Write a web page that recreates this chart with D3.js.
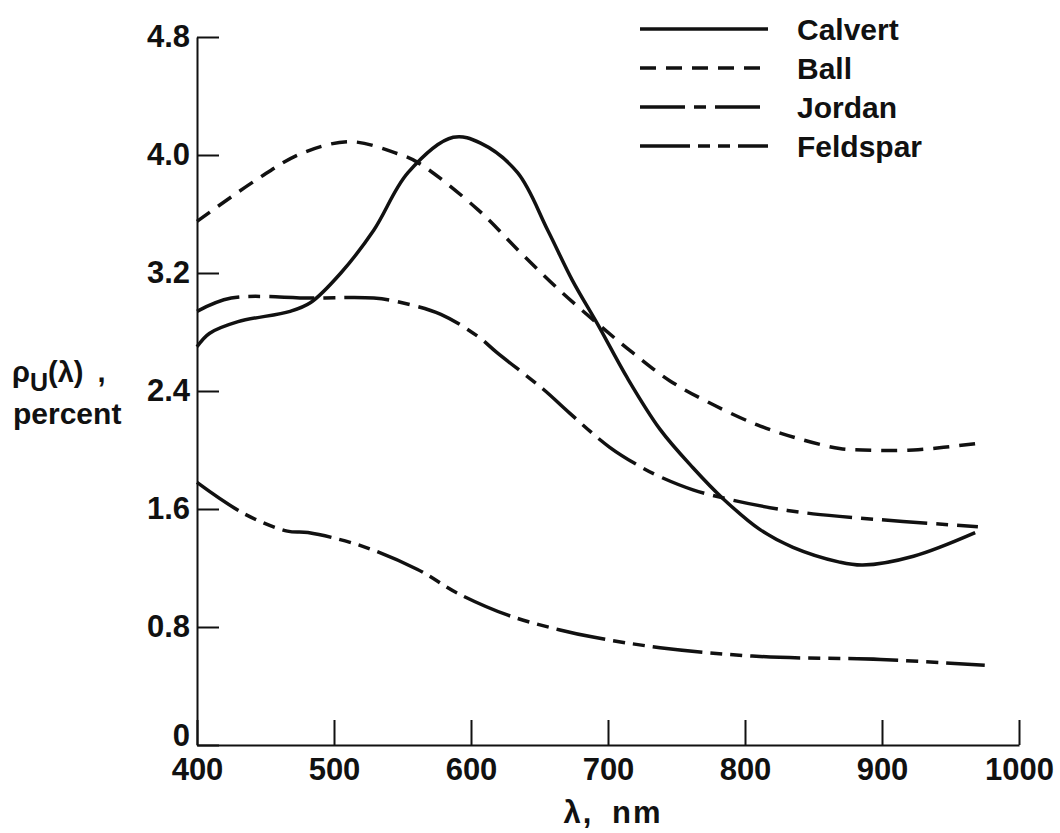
<!DOCTYPE html>
<html lang="en">
<head>
<meta charset="UTF-8" />
<title>Spectral reflectance</title>
<script src="https://d3js.org/d3.v7.min.js"></script>
<style>
  body { margin: 0; background: #fff; }
  svg { display: block; }
  text { font-family: "Liberation Sans", Arial, sans-serif; font-weight: bold; fill: #111; }
  .axis path, .axis line { stroke: #111; stroke-width: 2px; }
  .curve { fill: none; stroke: #111; stroke-width: 3.5px; stroke-linecap: butt; }
</style>
</head>
<body>
<script>
// data
const calvertX = [400, 409, 430, 468, 483, 505, 529, 554, 587, 607, 634, 656, 674, 692, 714, 738, 762, 784, 811, 835, 869, 886, 923, 968];
const calvertY = [2.70, 2.79, 2.87, 2.94, 3.00, 3.20, 3.49, 3.88, 4.12, 4.08, 3.88, 3.49, 3.15, 2.86, 2.49, 2.14, 1.88, 1.67, 1.46, 1.34, 1.24, 1.22, 1.28, 1.44];

const ballX = [400, 443, 476, 512, 546, 561, 605, 636, 665, 692, 718, 745, 774, 809, 838, 869, 886, 923, 974];
const ballY = [3.55, 3.83, 4.01, 4.09, 4.01, 3.95, 3.63, 3.34, 3.08, 2.86, 2.66, 2.47, 2.32, 2.17, 2.08, 2.01, 2.00, 2.00, 2.05];

const jordanX = [400, 425, 483, 529, 549, 578, 605, 619, 653, 672, 701, 725, 740, 762, 791, 831, 869, 970];
const jordanY = [2.94, 3.03, 3.03, 3.03, 3.00, 2.92, 2.77, 2.66, 2.41, 2.25, 2.02, 1.88, 1.81, 1.73, 1.66, 1.59, 1.55, 1.48];

const feldsparX = [400, 434, 466, 481, 520, 561, 590, 627, 665, 690, 738, 811, 899, 975];
const feldsparY = [1.78, 1.57, 1.45, 1.44, 1.35, 1.19, 1.03, 0.88, 0.78, 0.73, 0.66, 0.60, 0.58, 0.54];

const seriesNames = ["Calvert", "Ball", "Jordan", "Feldspar"];
const xTicks = [400, 500, 600, 700, 800, 900, 1000];
const yTicks = [0, 0.8, 1.6, 2.4, 3.2, 4.0, 4.8];

const width = 1060;
const height = 833;

const svg = d3.select("body").append("svg")
  .attr("width", width)
  .attr("height", height);

const x = d3.scaleLinear().domain([400, 1000]).range([197, 1019]);
const y = d3.scaleLinear().domain([0, 4.8]).range([745, 37]);

// axes, ticks pointing inward
svg.append("g")
  .attr("class", "axis")
  .attr("transform", `translate(0,${y(0)})`)
  .call(d3.axisBottom(x).tickValues(xTicks).tickFormat(d3.format("d"))
    .tickSizeInner(-25).tickSizeOuter(0).tickPadding(13))
  .call(g => g.selectAll("text").style("font-size", "31px"));

svg.append("g")
  .attr("class", "axis")
  .attr("transform", `translate(${x(400)},0)`)
  .call(d3.axisLeft(y).tickValues(yTicks).tickFormat(d => d === 0 ? "0" : d.toFixed(1))
    .tickSizeInner(-22).tickSizeOuter(0).tickPadding(7))
  .call(g => g.selectAll("text").style("font-size", "31px"))
  // the zero sits a little above the corner
  .call(g => g.selectAll(".tick text").filter(d => d === 0).attr("y", -9));

// curves
const styles = {
  Calvert: null,
  Ball: "16,10",
  Jordan: "45,9,12,9",
  Feldspar: "50,8,12,8,12,8"
};
const series = [
  { name: "Calvert", xs: calvertX, ys: calvertY },
  { name: "Ball", xs: ballX, ys: ballY },
  { name: "Jordan", xs: jordanX, ys: jordanY },
  { name: "Feldspar", xs: feldsparX, ys: feldsparY }
];

const line = d3.line()
  .x(d => x(d[0]))
  .y(d => y(d[1]))
  .curve(d3.curveCatmullRom.alpha(0.5));

series.forEach(s => {
  svg.append("path")
    .datum(d3.zip(s.xs, s.ys))
    .attr("class", "curve")
    .attr("stroke-dasharray", styles[s.name])
    .attr("d", line);
});

// legend
const legend = svg.append("g").attr("transform", "translate(640,29)");
seriesNames.forEach((name, i) => {
  const g = legend.append("g").attr("transform", `translate(0,${i * 39})`);
  g.append("line")
    .attr("class", "curve")
    .attr("x1", 0).attr("x2", 128)
    .attr("y1", 0).attr("y2", 0)
    .attr("stroke-dasharray", styles[name]);
  g.append("text")
    .attr("x", 157)
    .attr("dy", "0.36em")
    .style("font-size", "30px")
    .text(name);
});

// axis titles
const yl = svg.append("text")
  .attr("x", 12)
  .attr("y", 382)
  .style("font-size", "29px");
yl.append("tspan").text("ρ");
yl.append("tspan").attr("dy", 9).style("font-size", "25px").text("U");
yl.append("tspan").attr("dy", -9).text("(λ)");
yl.append("tspan").attr("dx", 14).text(",");

svg.append("text")
  .attr("x", 13)
  .attr("y", 424)
  .style("font-size", "30px")
  .text("percent");

svg.append("text")
  .attr("x", 613)
  .attr("y", 823)
  .attr("text-anchor", "middle")
  .style("font-size", "31px")
  .style("letter-spacing", "2px")
  .style("word-spacing", "8px")
  .text("λ, nm");
</script>
</body>
</html>
